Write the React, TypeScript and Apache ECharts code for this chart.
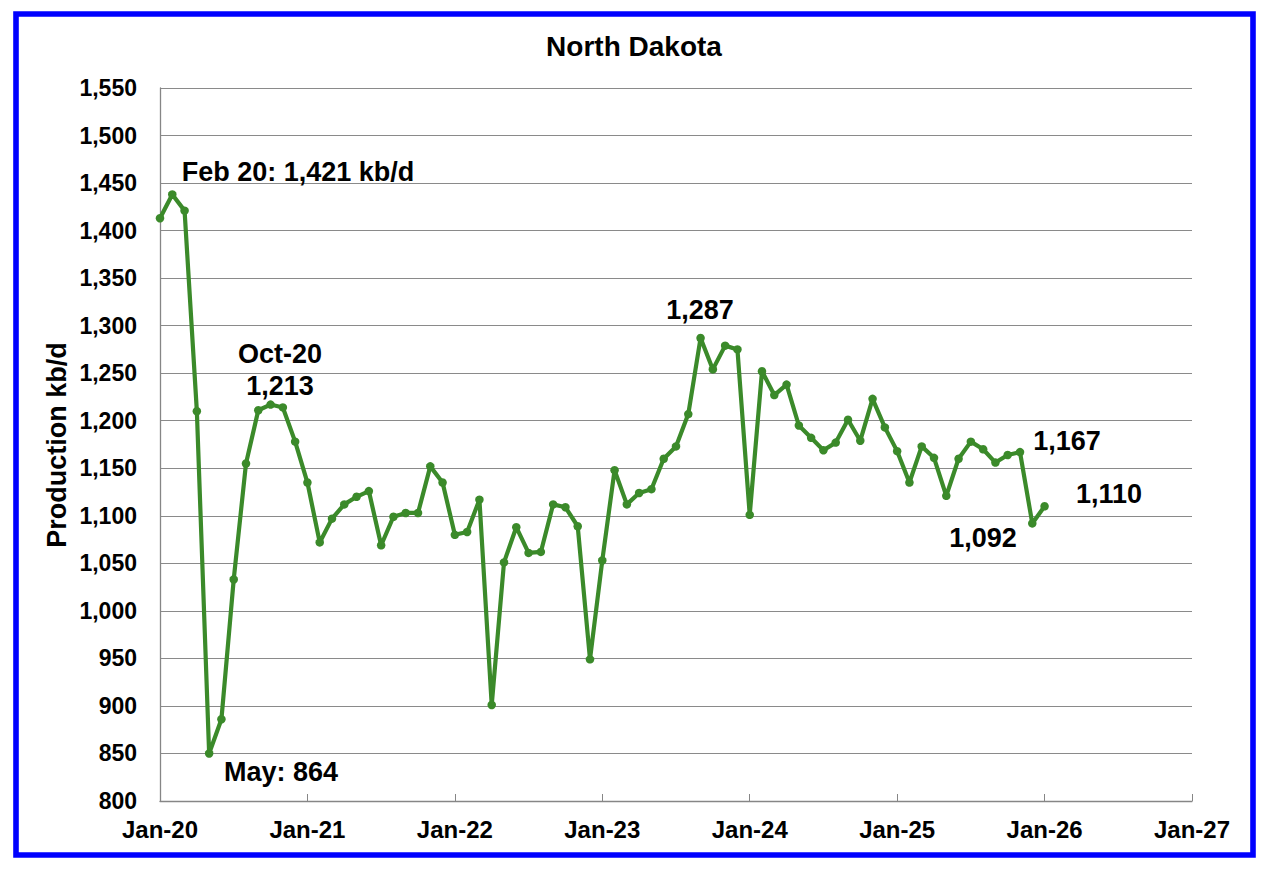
import React, { useEffect, useRef } from "react";
import * as echarts from "echarts";

// Monthly production, Jan-20 .. Jan-26 (kb/d)
const production: number[] = [
  // 2020
  1413, 1438, 1421, 1210, 850, 886, 1033, 1155, 1211, 1217, 1214, 1178,
  // 2021
  1135, 1072, 1097, 1112, 1120, 1126, 1069, 1099, 1103, 1103, 1152, 1135,
  // 2022
  1080, 1083, 1117, 901, 1051, 1088, 1061, 1062, 1112, 1109, 1089, 949,
  // 2023
  1053, 1148, 1112, 1124, 1128, 1160, 1173, 1207, 1287, 1254, 1279, 1275,
  // 2024
  1101, 1252, 1227, 1238, 1195, 1182, 1169, 1177, 1201, 1179, 1223, 1193,
  // 2025
  1168, 1135, 1173, 1161, 1121, 1160, 1178, 1170, 1156, 1164, 1167, 1092,
  // 2026
  1110,
];

const xTickLabels: string[] = ["Jan-20", "Jan-21", "Jan-22", "Jan-23", "Jan-24", "Jan-25", "Jan-26", "Jan-27"];
const yMin = 800;
const yMax = 1550;
const yStep = 50;

const titleText = "North Dakota";
const yAxisTitle = "Production kb/d";
const annotations: { text: string; x: number; y: number }[] = [
  { text: "Feb 20: 1,421 kb/d", x: 298, y: 172 },
  { text: "Oct-20", x: 280, y: 354 },
  { text: "1,213", x: 280, y: 386 },
  { text: "May: 864", x: 281, y: 772 },
  { text: "1,287", x: 700, y: 310 },
  { text: "1,167", x: 1067, y: 441 },
  { text: "1,110", x: 1109, y: 494 },
  { text: "1,092", x: 983, y: 538 },
];

const FONT = "'Liberation Sans', Arial, Helvetica, sans-serif";

export default function App() {
  const ref = useRef<HTMLDivElement>(null);

  useEffect(() => {
    if (!ref.current) return;
    const chart = echarts.init(ref.current, undefined, { renderer: "svg" });
    const seriesData = production.map((v, i) => [i, v]);

    chart.setOption({
      animation: false,
      backgroundColor: "#ffffff",
      grid: { left: 160, top: 88, right: 74, bottom: 71, containLabel: false },
      xAxis: {
        type: "value",
        min: 0,
        max: (xTickLabels.length - 1) * 12,
        interval: 12,
        axisLine: { show: true, lineStyle: { color: "#868686", width: 1.3 } },
        axisTick: { show: true, inside: true, length: 7, lineStyle: { color: "#868686", width: 1 } },
        splitLine: { show: false },
        axisLabel: {
          margin: 16,
          color: "#000",
          fontFamily: FONT,
          fontWeight: "bold",
          fontSize: 24,
          formatter: (v: number) => xTickLabels[Math.round(v / 12)] ?? "",
        },
      },
      yAxis: {
        type: "value",
        min: yMin,
        max: yMax,
        interval: yStep,
        axisLine: { show: true, lineStyle: { color: "#868686", width: 1.3 } },
        axisTick: { show: false },
        splitLine: { show: true, lineStyle: { color: "#8a8a8a", width: 1.2 } },
        axisLabel: {
          margin: 23,
          color: "#000",
          fontFamily: FONT,
          fontWeight: "bold",
          fontSize: 23,
          formatter: (v: number) => v.toLocaleString("en-US"),
        },
      },
      series: [
        {
          type: "line",
          data: seriesData,
          symbol: "circle",
          symbolSize: 8.5,
          showSymbol: true,
          lineStyle: { color: "#3b8a2a", width: 4.2 },
          itemStyle: { color: "#3b8a2a" },
          z: 5,
        },
      ],
      graphic: [
        {
          type: "rect",
          shape: { x: 16, y: 14, width: 1237, height: 841 },
          style: { fill: "none", stroke: "#0000ff", lineWidth: 5.6 },
          z: 100,
        },
        {
          type: "text",
          x: 634,
          y: 46,
          style: {
            text: titleText,
            fill: "#000",
            font: `bold 28px ${FONT}`,
            textAlign: "center",
            textVerticalAlign: "middle",
          },
        },
        {
          type: "text",
          x: 57,
          y: 445,
          rotation: Math.PI / 2,
          style: {
            text: yAxisTitle,
            fill: "#000",
            font: `bold 27px ${FONT}`,
            textAlign: "center",
            textVerticalAlign: "middle",
          },
        },
        ...annotations.map((a) => ({
          type: "text",
          x: a.x,
          y: a.y,
          style: {
            text: a.text,
            fill: "#000",
            font: `bold 27px ${FONT}`,
            textAlign: "center",
            textVerticalAlign: "middle",
          },
          z: 50,
        })),
      ],
    });

    return () => {
      chart.dispose();
    };
  }, []);

  return (
    <div
      ref={ref}
      style={{ position: "fixed", left: 0, top: 0, width: 1266, height: 872, background: "#fff" }}
    />
  );
}
